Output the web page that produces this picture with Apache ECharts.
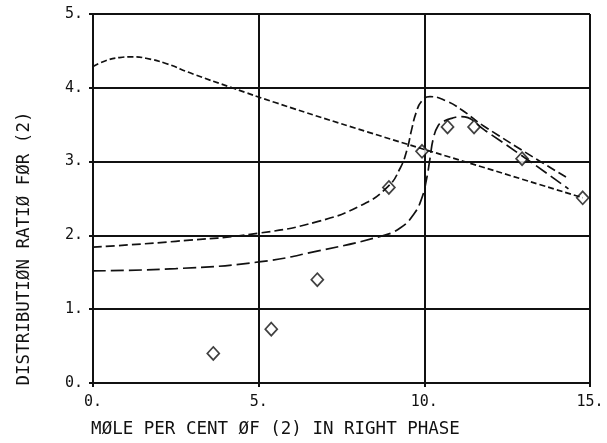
<!DOCTYPE html>
<html>
<head>
<meta charset="utf-8">
<script src="https://cdn.jsdelivr.net/npm/echarts@6/dist/echarts.min.js"></script>
<style>
  html, body { margin: 0; padding: 0; background: #fff; }
  #chart { width: 607px; height: 443px; }
</style>
</head>
<body>
<div id="chart"></div>
<script>
// Axis ticks
const xTicks = [0, 5, 10, 15];
const yTicks = [0, 1, 2, 3, 4, 5];

// Measured distribution ratios: [mole % of (2), ratio]
const measured = [
  [3.63, 0.40], [5.38, 0.73], [6.77, 1.40], [8.93, 2.65], [9.93, 3.14],
  [10.70, 3.47], [11.50, 3.47], [12.95, 3.04], [14.78, 2.51]
];

// Calculated curves
const curveShort = [
  [0, 4.29], [0.4, 4.37], [0.8, 4.41], [1.2, 4.42], [1.6, 4.40], [2.2, 4.33],
  [3.0, 4.19], [4.2, 4.00], [5.5, 3.80], [8.3, 3.40], [11.8, 2.92], [14.78, 2.51]
];
const curveMedium = [
  [0, 1.84], [2.5, 1.92], [5.0, 2.03], [6.8, 2.19], [8.1, 2.41], [8.9, 2.66],
  [9.27, 2.91], [9.47, 3.15], [9.62, 3.44], [9.75, 3.66], [9.92, 3.82],
  [10.17, 3.88], [10.67, 3.82], [11.1, 3.71], [11.8, 3.48], [14.35, 2.77]
];
const curveLong = [
  [0, 1.52], [2.5, 1.55], [5.0, 1.64], [6.8, 1.79], [8.7, 1.99], [9.27, 2.10],
  [9.67, 2.28], [9.92, 2.50], [10.07, 2.77], [10.17, 3.04], [10.27, 3.31],
  [10.42, 3.49], [10.6, 3.55], [10.85, 3.59], [11.1, 3.61], [11.84, 3.42],
  [14.35, 2.63]
];

const ink = '#111';
const font = 'DejaVu Sans Mono';

const chart = echarts.init(document.getElementById('chart'), null, { renderer: 'canvas' });

function curve(data, dash) {
  return {
    type: 'line',
    data: data,
    smooth: 0.5,
    showSymbol: false,
    silent: true,
    lineStyle: { color: ink, width: 1.7, type: dash }
  };
}

chart.setOption({
  animation: false,
  backgroundColor: '#fff',
  grid: { left: 93, right: 17, top: 14, bottom: 57, containLabel: false },
  xAxis: {
    type: 'value',
    min: xTicks[0],
    max: xTicks[xTicks.length - 1],
    interval: xTicks[1] - xTicks[0],
    name: 'MØLE PER CENT ØF (2) IN RIGHT PHASE',
    nameLocation: 'middle',
    nameGap: 37,
    nameTextStyle: { color: ink, fontFamily: font, fontSize: 17.5, padding: [0, 132, 0, 0] },
    axisLine: { show: true, lineStyle: { color: ink, width: 2 } },
    axisTick: { show: true, length: 4, lineStyle: { color: ink, width: 2 } },
    axisLabel: { color: ink, fontFamily: font, fontSize: 15, margin: 12, formatter: v => v + '.' },
    splitLine: { show: true, lineStyle: { color: ink, width: 2 } }
  },
  yAxis: {
    type: 'value',
    min: yTicks[0],
    max: yTicks[yTicks.length - 1],
    interval: yTicks[1] - yTicks[0],
    name: 'DISTRIBUTIØN RATIØ FØR (2)',
    nameLocation: 'middle',
    nameGap: 60,
    nameTextStyle: { color: ink, fontFamily: font, fontSize: 17.5, padding: [0, 100, 0, 0] },
    axisLine: { show: true, lineStyle: { color: ink, width: 2 } },
    axisTick: { show: true, length: 4, lineStyle: { color: ink, width: 2 } },
    axisLabel: { color: ink, fontFamily: font, fontSize: 15, margin: 10, formatter: v => v + '.' },
    splitLine: { show: true, lineStyle: { color: ink, width: 2 } }
  },
  series: [
    curve(curveShort, [6, 3]),
    curve(curveMedium, [9, 4]),
    curve(curveLong, [13, 5]),
    {
      type: 'scatter',
      data: measured,
      symbol: 'diamond',
      symbolSize: [12, 13],
      silent: true,
      itemStyle: { color: '#fff', borderColor: ink, borderWidth: 1.7 }
    }
  ]
});
</script>
</body>
</html>
